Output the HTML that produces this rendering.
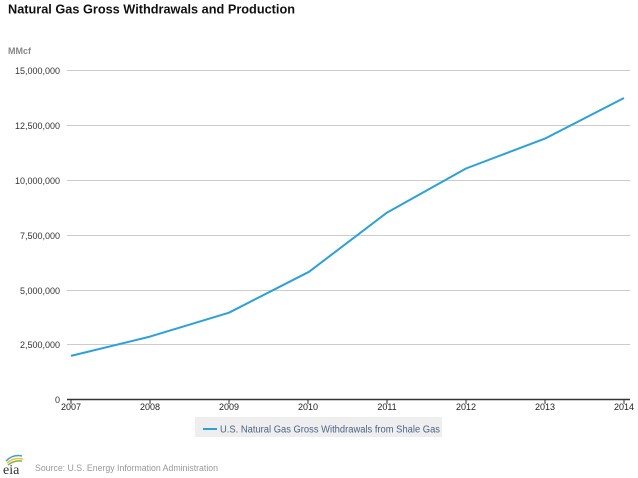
<!DOCTYPE html>
<html><head><meta charset="utf-8"><style>
html,body{margin:0;padding:0;background:#fff;}
svg{display:block;font-family:"Liberation Sans",Arial,sans-serif;}
</style></head><body>
<svg width="638" height="478" viewBox="0 0 638 478" xmlns="http://www.w3.org/2000/svg">
<rect width="638" height="478" fill="#fff"/>
<text x="8" y="13.5" font-size="13" font-weight="bold" fill="#111" textLength="287" lengthAdjust="spacingAndGlyphs">Natural Gas Gross Withdrawals and Production</text>
<text x="8" y="54" font-size="9" font-weight="bold" fill="#888">MMcf</text>
<g stroke="#cccccc" stroke-width="1">
<line x1="67" y1="70.5" x2="630" y2="70.5"/>
<line x1="67" y1="125.5" x2="630" y2="125.5"/>
<line x1="67" y1="180.5" x2="630" y2="180.5"/>
<line x1="67" y1="235.5" x2="630" y2="235.5"/>
<line x1="67" y1="290.5" x2="630" y2="290.5"/>
<line x1="67" y1="344.5" x2="630" y2="344.5"/>
</g>
<g font-size="9" fill="#333" text-anchor="end">
<text x="60" y="74">15,000,000</text>
<text x="60" y="129">12,500,000</text>
<text x="60" y="184">10,000,000</text>
<text x="60" y="239">7,500,000</text>
<text x="60" y="294">5,000,000</text>
<text x="60" y="348">2,500,000</text>
<text x="60" y="403">0</text>
</g>
<line x1="67" y1="399.5" x2="630" y2="399.5" stroke="#333" stroke-width="1.5"/>
<g stroke="#333" stroke-width="1">
<line x1="71" y1="399" x2="71" y2="404"/>
<line x1="150" y1="399" x2="150" y2="404"/>
<line x1="229" y1="399" x2="229" y2="404"/>
<line x1="308" y1="399" x2="308" y2="404"/>
<line x1="387" y1="399" x2="387" y2="404"/>
<line x1="466" y1="399" x2="466" y2="404"/>
<line x1="545" y1="399" x2="545" y2="404"/>
<line x1="624" y1="399" x2="624" y2="404"/>
</g>
<g font-size="9" fill="#222" text-anchor="middle">
<text x="71" y="410">2007</text>
<text x="150" y="410">2008</text>
<text x="229" y="410">2009</text>
<text x="308" y="410">2010</text>
<text x="387" y="410">2011</text>
<text x="466" y="410">2012</text>
<text x="545" y="410">2013</text>
<text x="624" y="410">2014</text>
</g>
<polyline fill="none" stroke="#2aa1dc" stroke-width="2" stroke-linejoin="round" points="71,355.9 150,336.6 229,312.7 309,271.8 387,212.6 466,168.5 545,138.6 624,98"/>
<rect x="195" y="417" width="247" height="20" fill="#eeeeee"/>
<line x1="203" y1="429" x2="217" y2="429" stroke="#2aa1dc" stroke-width="2"/>
<text x="220" y="432.5" font-size="10" fill="#4a6585" textLength="220" lengthAdjust="spacingAndGlyphs">U.S. Natural Gas Gross Withdrawals from Shale Gas</text>
<g fill="none" stroke-width="1.5">
<path d="M6,461 Q13,454 22,456" stroke="#3aa0d8"/>
<path d="M7,463 Q14,457 23,459" stroke="#f2c12e"/>
<path d="M8,465 Q14,460 22,461" stroke="#7ab648"/>
</g>
<text x="3" y="474" font-family="Liberation Serif,serif" font-size="14" fill="#333">eia</text>
<text x="35" y="471" font-size="9" fill="#999" textLength="183" lengthAdjust="spacingAndGlyphs">Source: U.S. Energy Information Administration</text>
</svg>
</body></html>
